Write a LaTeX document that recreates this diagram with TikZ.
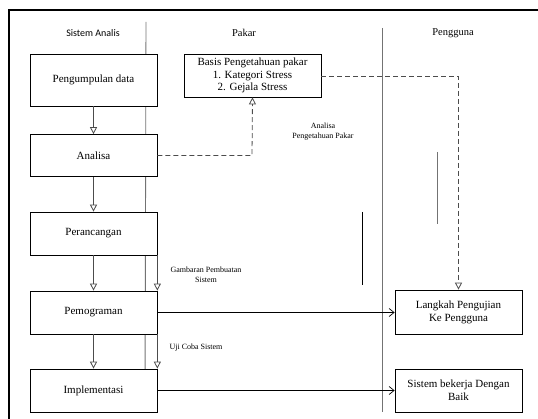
\documentclass[tikz,border=0pt]{standalone}
\usepackage{fontspec}
\setmainfont{Liberation Serif}
\newfontfamily\judulfont{Carlito}
\usetikzlibrary{arrows.meta}

\begin{document}
\begin{tikzpicture}[x=1pt,y=-1pt,
    kotak/.style={draw=black, fill=white, line width=0.7pt, minimum width=127pt,
                  minimum height=43pt, inner sep=1pt, align=center, font=\fontsize{11}{13}\selectfont},
    alur/.style={draw=black!70, line width=0.8pt, -{Triangle[open,length=7pt,width=7pt]}},
    kirim/.style={draw=black, line width=0.7pt, -{Straight Barb[length=5pt,width=8pt]}},
    putus/.style={dash pattern=on 5pt off 3pt},
    lajur/.style={draw=black!55, line width=0.9pt},
    kecil/.style={font=\fontsize{8}{10}\selectfont, align=center}]

    \useasboundingbox (0,0) rectangle (538,419);

    % bingkai
    \draw[line width=1.6pt] (9,419) -- (9,10) -- (538,10);

    % lajur
    \draw[lajur] (146,22) -- (145,412);
    \draw[lajur] (382,28) -- (382,412);
    \draw[lajur] (437,152) -- (437,224);
    \draw[line width=0.7pt] (362,212) -- (362,285);

    % judul lajur
    \node[font=\judulfont\fontsize{10}{12}\selectfont] (jsa) at (93,33) {Sistem Analis};
    \node[font=\fontsize{10.5}{12}\selectfont] (jpk) at (244,33) {Pakar};
    \node[font=\fontsize{10.5}{12}\selectfont] (jpg) at (453,33) {Pengguna};

    % sistem analis
    \node[kotak, minimum height=52pt] (kumpul) at (93.5,80) {Pengumpulan data};
    \node[kotak, minimum height=42pt] (analisa) at (93.5,155.5) {Analisa};
    \node[kotak] (rancang) at (93.5,233.5) {Perancangan};
    \node[kotak] (program) at (93.5,312.5) {Pemograman};
    \node[kotak] (implement) at (93.5,390.5) {Implementasi};

    % pakar
    \node[kotak, minimum width=137pt, inner sep=0pt, font=\fontsize{11}{12.5}\selectfont]
        (basis) at (252.5,75.5) {Basis Pengetahuan pakar\\1. Kategori Stress\\2. Gejala Stress};

    % pengguna
    \node[kotak, minimum height=44pt] (langkah) at (458.5,312) {Langkah Pengujian\\Ke Pengguna};
    \node[kotak] (bekerja) at (458.5,390.5) {Sistem bekerja Dengan\\Baik};

    % alur sistem analis
    \draw[alur] (kumpul) -- (analisa);
    \draw[alur] (analisa) -- (rancang);
    \draw[alur] (rancang) -- (program);
    \draw[alur] (program) -- (implement);
    \draw[alur] (rancang.south east) -- (program.north east);
    \draw[alur] (program.south east) -- (implement.north east);

    % alur putus-putus
    \coordinate (tekuk1) at (252,155.5);
    \coordinate (tekuk2) at (458.5,76);
    \draw[alur, putus] (analisa.east) -- (tekuk1) -- (basis.south);
    \draw[alur, putus] (basis.east |- tekuk2) -- (tekuk2) -- (langkah.north);

    % ke pengguna
    \draw[kirim] (program.east) -- (program.east -| langkah.west);
    \draw[kirim] (implement.east) -- (bekerja.west);

    % keterangan
    \node[kecil] (ketanalisa) at (323,132) {Analisa\\Pengetahuan Pakar};
    \node[kecil] (ketgambar) at (206,275) {Gambaran Pembuatan\\Sistem};
    \node[kecil] (ketuji) at (196,348) {Uji Coba Sistem};

\end{tikzpicture}
\end{document}
